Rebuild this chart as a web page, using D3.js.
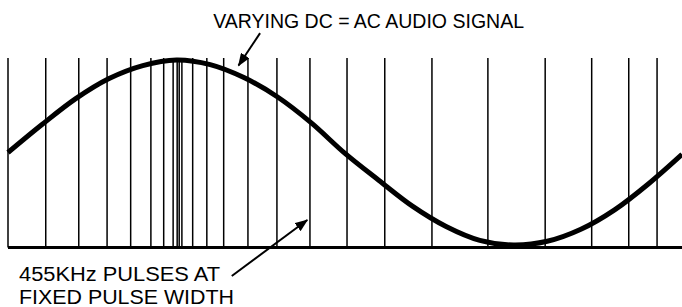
<!DOCTYPE html>
<html>
<head>
<meta charset="utf-8">
<script src="https://cdn.jsdelivr.net/npm/d3@7"></script>
<style>
  body { margin: 0; background: #fff; }
  svg { display: block; }
  text { font-family: "Liberation Sans", Arial, sans-serif; fill: #000; }
</style>
</head>
<body>
<div class="tool"></div>
<script>
var width = 682, height = 307;

// audio signal (t = 0..100 across the plot)
var signalT = [0, 5, 10, 15, 20, 25, 30, 35, 40, 45, 50, 55, 60, 65, 70, 75, 80, 85, 90, 95, 100];
var signalV = [0, 0.30, 0.58, 0.80, 0.94, 1.0, 0.95, 0.81, 0.60, 0.32, -0.01, -0.30, -0.58, -0.80, -0.95, -1.0, -0.96, -0.83, -0.62, -0.34, -0.02];

// 455KHz pulse positions (same t units)
var pulseT = [0, 5.6, 10.5, 14.7, 18.2, 21.2, 23.1, 24.5, 25.1, 25.4, 25.8, 27.4, 29.5, 32.0,
              35.6, 39.9, 44.8, 50.3, 55.9, 62.9, 71.2, 79.7, 86.6, 92.1, 96.3];

// annotation arrows: [tail t, tail v, tip t, tip v]
var arrows = [[37.4, 1.29, 34.2, 0.94], [33.2, -1.335, 44.4, -0.73]];

var labelTop = ["VARYING DC = AC AUDIO SIGNAL"];
var labelBottom = ["455KHz PULSES AT", "FIXED PULSE WIDTH"];
var labelBottomLen = [201, 215];

var x = d3.scaleLinear().domain([0, 100]).range([8, 682]);
var y = d3.scaleLinear().domain([-1, 1]).range([245, 60]);
var yPulse = d3.scaleLinear().domain([0, 1]).range([247.5, 58]);

var svg = d3.select(".tool")
        .append("svg")
        .attr("width", width)
        .attr("height", height);

svg.append("defs").append("marker")
    .attr("id", "head")
    .attr("markerUnits", "userSpaceOnUse")
    .attr("viewBox", "0 -5 13 10")
    .attr("refX", 12)
    .attr("refY", 0)
    .attr("markerWidth", 13)
    .attr("markerHeight", 10)
    .attr("orient", "auto")
  .append("path")
    .attr("d", "M0,-5L13,0L0,5Z")
    .attr("fill", "#000");

// pulses
svg.selectAll("line.pulse")
    .data(pulseT)
    .enter().append("line")
      .attr("class", "pulse")
      .attr("x1", function(d) { return x(d); })
      .attr("x2", function(d) { return x(d); })
      .attr("y1", yPulse(0))
      .attr("y2", yPulse(1))
      .attr("stroke", "#000")
      .attr("stroke-width", 1.5);

// baseline
svg.append("line")
    .attr("x1", x(0))
    .attr("x2", x(100))
    .attr("y1", yPulse(0))
    .attr("y2", yPulse(0))
    .attr("stroke", "#000")
    .attr("stroke-width", 3);

// signal
var line = d3.line()
    .x(function(d, i) { return x(signalT[i]); })
    .y(function(d) { return y(d); })
    .curve(d3.curveCatmullRom);

svg.append("path")
    .datum(signalV)
    .attr("d", line)
    .attr("fill", "none")
    .attr("stroke", "#000")
    .attr("stroke-width", 5);

// arrows
svg.selectAll("line.arrow")
    .data(arrows)
    .enter().append("line")
      .attr("class", "arrow")
      .attr("x1", function(d) { return x(d[0]); })
      .attr("y1", function(d) { return y(d[1]); })
      .attr("x2", function(d) { return x(d[2]); })
      .attr("y2", function(d) { return y(d[3]); })
      .attr("stroke", "#000")
      .attr("stroke-width", 2)
      .attr("marker-end", "url(#head)");

// labels
svg.selectAll("text.top")
    .data(labelTop)
    .enter().append("text")
      .attr("class", "top")
      .attr("x", 524)
      .attr("y", 28)
      .attr("text-anchor", "end")
      .style("font-size", "19.5px")
      .text(function(d) { return d; });

svg.selectAll("text.bottom")
    .data(labelBottom)
    .enter().append("text")
      .attr("class", "bottom")
      .attr("x", 19)
      .attr("y", function(d, i) { return 281 + i * 22.5; })
      .attr("textLength", function(d, i) { return labelBottomLen[i]; })
      .attr("lengthAdjust", "spacingAndGlyphs")
      .style("font-size", "20px")
      .text(function(d) { return d; });
</script>
</body>
</html>
